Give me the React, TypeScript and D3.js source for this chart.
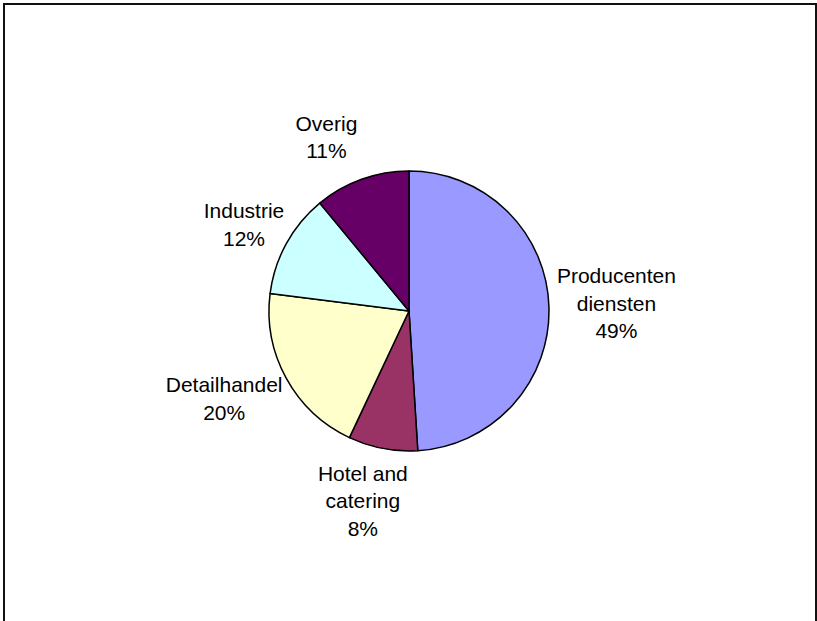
import React, { useRef, useEffect } from 'react';
import * as d3 from 'd3';

// sectors, clockwise from 12 o'clock
const categories = ['Producenten\ndiensten', 'Hotel and\ncatering', 'Detailhandel', 'Industrie', 'Overig'];
const values = [49, 8, 20, 12, 11];
const colors = ['#9999FF', '#993366', '#FFFFCC', '#CCFFFF', '#660066'];

const W = 817;
const H = 621;

const App: React.FC = () => {
    const ref = useRef<SVGSVGElement>(null);

    useEffect(() => {
        if (!ref.current) return;
        const svg = d3.select(ref.current);
        svg.selectAll('*').remove();

        // chart frame (bottom edge falls outside the picture)
        svg.append('rect')
            .attr('x', 4).attr('y', 4)
            .attr('width', 812).attr('height', 700)
            .attr('fill', 'none')
            .attr('stroke', '#111')
            .attr('stroke-width', 2);

        const cx = 409, cy = 311, radius = 140;
        const total = d3.sum(values);
        const pct = d3.format('.0%');

        const pie = d3.pie<number>().sort(null).value(d => d);
        const arcs = pie(values);
        const arc = d3.arc<d3.PieArcDatum<number>>().innerRadius(0).outerRadius(radius);

        const g = svg.append('g').attr('transform', `translate(${cx},${cy})`);

        g.selectAll('path')
            .data(arcs)
            .enter()
            .append('path')
            .attr('d', arc)
            .attr('fill', (d, i) => colors[i])
            .attr('stroke', '#000')
            .attr('stroke-width', 1.5)
            .attr('stroke-linejoin', 'round');

        // labels sit just outside the rim, pushed outward by half their box
        const fontSize = 21;
        const lineH = 27.5;
        const nudge: Record<number, [number, number]> = { 1: [-10, 6], 2: [-4, 5], 4: [-22, -7] };

        arcs.forEach((d, i) => {
            const lines = [...categories[i].split('\n'), pct(d.value / total)];
            const t = g.append('text')
                .attr('font-family', 'Liberation Sans, Arial, sans-serif')
                .attr('font-size', fontSize)
                .attr('fill', '#000')
                .attr('text-anchor', 'middle');
            lines.forEach(s => t.append('tspan').text(s));
            const w = d3.max(t.selectAll<SVGTSpanElement, unknown>('tspan').nodes(), n => n.getComputedTextLength()) || 0;
            const h = lines.length * lineH;

            const a = (d.startAngle + d.endAngle) / 2;
            const sx = Math.sin(a), sy = -Math.cos(a);
            const r = radius + 8;
            const [nx, ny] = nudge[i] || [0, 0];
            const lx = r * sx + (w / 2) * sx + nx;
            const ly = r * sy + (h / 2) * sy + ny;
            const top = ly - h / 2;

            t.selectAll('tspan')
                .attr('x', lx)
                .attr('y', (_, k) => top + lineH * 0.7 + k * lineH);
        });
    }, []);

    return (
        <svg ref={ref} width={W} height={H}
            style={{ position: 'absolute', left: 0, top: 0, background: '#fff' }} />
    );
};

export default App;
